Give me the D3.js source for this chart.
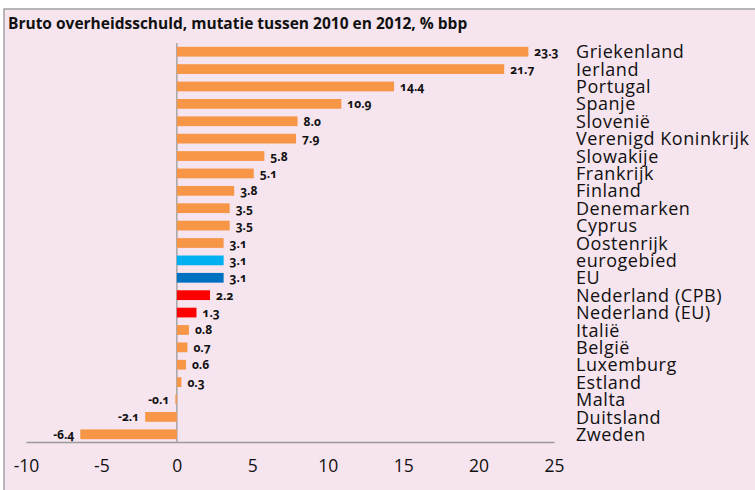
<!DOCTYPE html>
<html><head><meta charset="utf-8">
<script src="https://cdn.jsdelivr.net/npm/d3@7"></script>
<style>
html,body{margin:0;padding:0;background:#fff;}
svg{display:block;}
.val{font-variant-numeric:oldstyle-nums;}
</style></head>
<body>
<svg id="c" width="755" height="490"></svg>
<script>
const title = "Bruto overheidsschuld, mutatie tussen 2010 en 2012, % bbp";
const categories = ["Griekenland","Ierland","Portugal","Spanje","Slovenië","Verenigd Koninkrijk","Slowakije","Frankrijk","Finland","Denemarken","Cyprus","Oostenrijk","eurogebied","EU","Nederland (CPB)","Nederland (EU)","Italië","België","Luxemburg","Estland","Malta","Duitsland","Zweden"];
const values = [23.3,21.7,14.4,10.9,8.0,7.9,5.8,5.1,3.8,3.5,3.5,3.1,3.1,3.1,2.2,1.3,0.8,0.7,0.6,0.3,-0.1,-2.1,-6.4];
const tickValues = [-10,-5,0,5,10,15,20,25];

const highlight = {"eurogebied":"#00b0f0","EU":"#0070c0","Nederland (CPB)":"#ff0000","Nederland (EU)":"#ff0000"};
const baseColor = "#f79646";
const hyph = s => s.replace("\u2212","-");

const svg = d3.select("#c");
svg.append("rect").attr("x",4).attr("y",9).attr("width",800).attr("height",500)
  .attr("fill","#f6e4ee").attr("stroke","#a3a3a3").attr("stroke-width",1.5);

svg.append("text").attr("x",8).attr("y",29).text(title)
  .attr("font-family","Open Sans").attr("font-weight","bold").attr("font-size",15.5).attr("fill","#111");

const x = d3.scaleLinear().domain([-10,25]).range([26,554]);
const y = d3.scaleBand().domain(categories).range([43,443]).paddingInner(0.44).paddingOuter(0.22);

const data = categories.map((c,i)=>({c, v:values[i]}));

svg.append("line").attr("x1",x(0)).attr("x2",x(0)).attr("y1",43).attr("y2",442)
  .attr("stroke","#9a9a9a").attr("stroke-width",1.3);

svg.append("g").selectAll("rect").data(data).join("rect")
  .attr("x",d=>x(Math.min(0,d.v))).attr("width",d=>Math.abs(x(d.v)-x(0)))
  .attr("y",d=>y(d.c)).attr("height",y.bandwidth())
  .attr("fill",d=>highlight[d.c]||baseColor);

svg.append("g").selectAll("text").data(data).join("text")
  .attr("class","val")
  .attr("x",d=>d.v>=0? x(d.v)+6 : x(d.v)-6)
  .attr("y",d=>y(d.c)+y.bandwidth()/2+4.5)
  .attr("text-anchor",d=>d.v>=0?"start":"end")
  .attr("font-family","Open Sans").attr("font-weight","bold").attr("font-size",12).attr("fill","#111")
  .text(d=>hyph(d3.format(".1f")(d.v)));

svg.append("g").selectAll("text").data(data).join("text")
  .attr("x",576).attr("y",d=>y(d.c)+y.bandwidth()/2+6.6)
  .attr("font-family","Open Sans").attr("font-size",18).attr("letter-spacing",0.55).attr("fill","#111")
  .text(d=>d.c);

const ax = d3.axisBottom(x).tickValues(tickValues).tickSize(0).tickPadding(24).tickFormat(d=>hyph(d3.format("d")(d)));
const g = svg.append("g").attr("transform","translate(0,442)").call(ax);
g.select(".domain").attr("stroke","#9a9a9a").attr("stroke-width",1.3);
g.selectAll("text").attr("font-family","Open Sans").attr("font-size",17.5).attr("fill","#111").attr("dy","0.35em");
</script>
</body></html>
